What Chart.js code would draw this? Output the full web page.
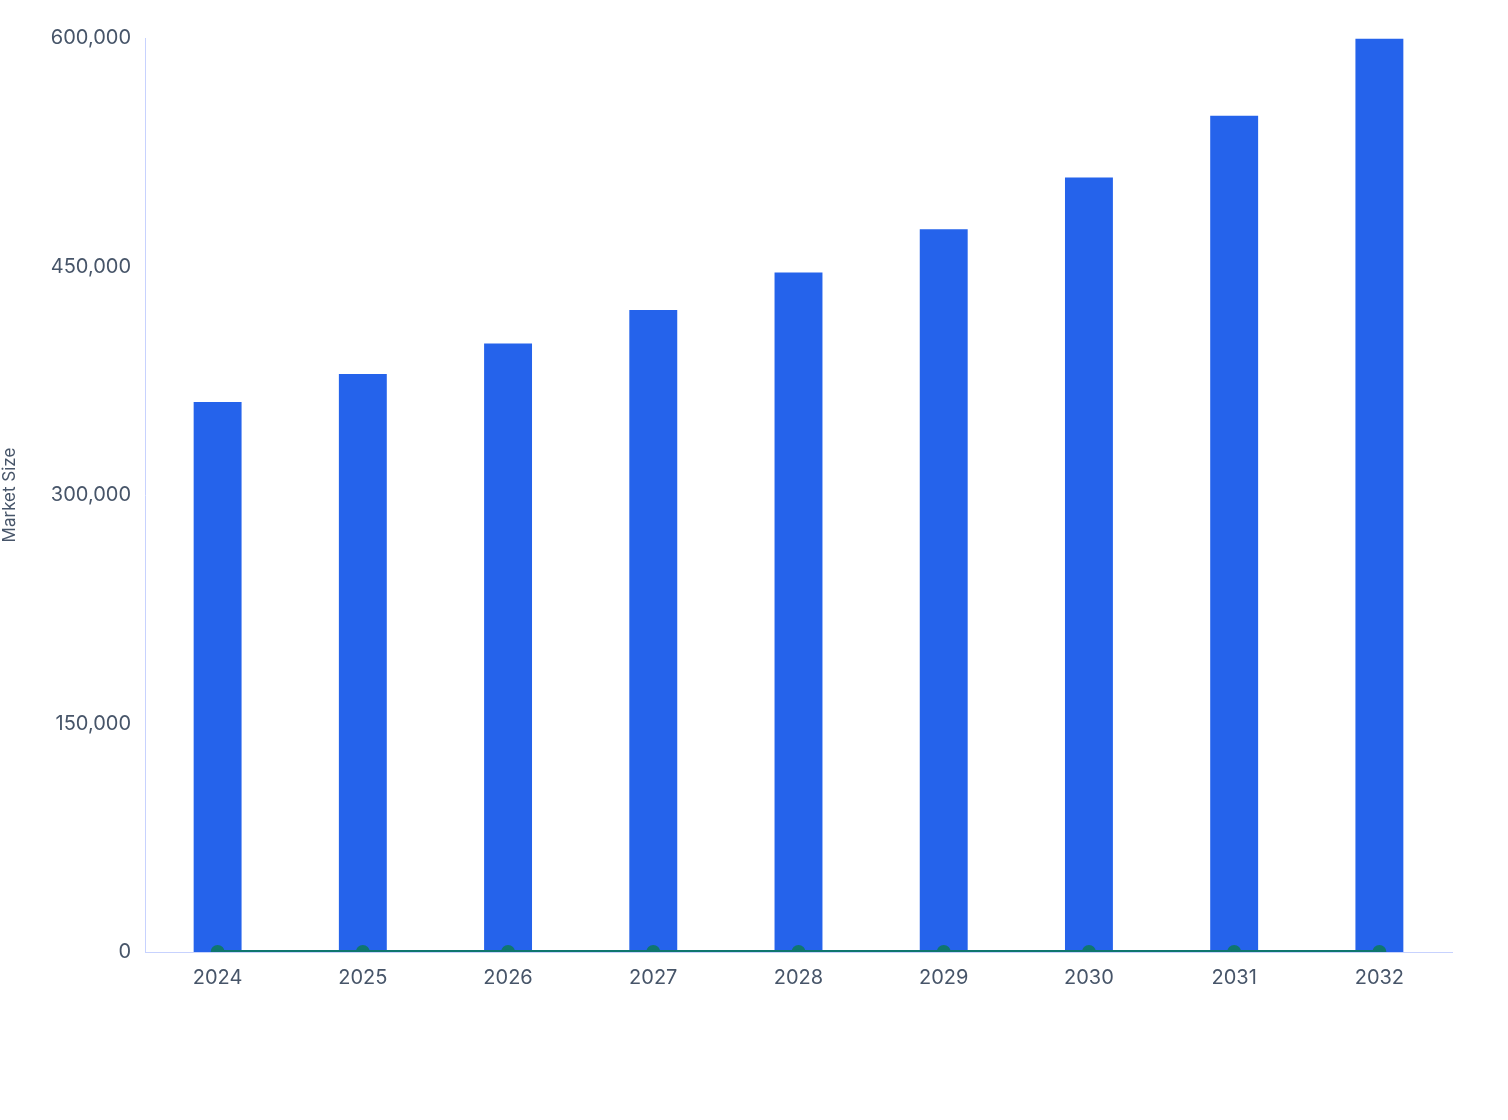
<!DOCTYPE html>
<html>
<head>
<meta charset="utf-8">
<script src="https://cdn.jsdelivr.net/npm/chart.js@4"></script>
<style>
  html, body { margin: 0; background: #fff; }
  #wrap { width: 1508px; height: 1120px; }
</style>
</head>
<body>
<div id="wrap"><canvas id="chart"></canvas></div>
<script>
const years = ['2024', '2025', '2026', '2027', '2028', '2029', '2030', '2031', '2032'];
const marketSize = [361000, 379500, 399500, 421500, 446000, 474500, 508500, 549000, 599500];
const growthLine = [0, 0, 0, 0, 0, 0, 0, 0, 0];
const yTicks = [0, 150000, 300000, 450000, 600000];

const axisColor = '#c7d2fe';
const textColor = '#475569';

new Chart(document.getElementById('chart'), {
  data: {
    labels: years,
    datasets: [
      { type: 'line', label: 'Growth', data: growthLine, borderColor: '#0f766e', backgroundColor: '#0f766e',
        borderWidth: 4, pointRadius: 5, pointHoverRadius: 5, order: 0 },
      { type: 'bar', label: 'Market Size', data: marketSize, backgroundColor: '#2563eb',
        barPercentage: 0.33, categoryPercentage: 1, order: 1 },
    ],
  },
  options: {
    responsive: true,
    maintainAspectRatio: false,
    animation: false,
    layout: { padding: { top: 38, right: 56, bottom: 124, left: 0 } },
    plugins: { legend: { display: false }, tooltip: { enabled: false } },
    scales: {
      x: {
        grid: { display: false, drawTicks: true, tickColor: axisColor },
        border: { color: axisColor },
        ticks: { color: textColor, font: { family: 'Inter', size: 20 }, padding: 6 },
      },
      y: {
        min: 0, max: 600000,
        afterBuildTicks: (axis) => { axis.ticks = yTicks.map((v) => ({ value: v })); },
        afterFit: (axis) => { axis.width = 145; },
        grid: { display: false, drawTicks: true, tickLength: 10, tickColor: axisColor },
        border: { color: axisColor },
        ticks: { color: textColor, font: { family: 'Inter', size: 20 }, padding: 4,
          callback: (v) => v.toLocaleString('en-US') },
        title: { display: true, text: 'Market Size', color: textColor, font: { family: 'Inter', size: 17 }, padding: 0 },
      },
    },
  },
});
</script>
</body>
</html>
